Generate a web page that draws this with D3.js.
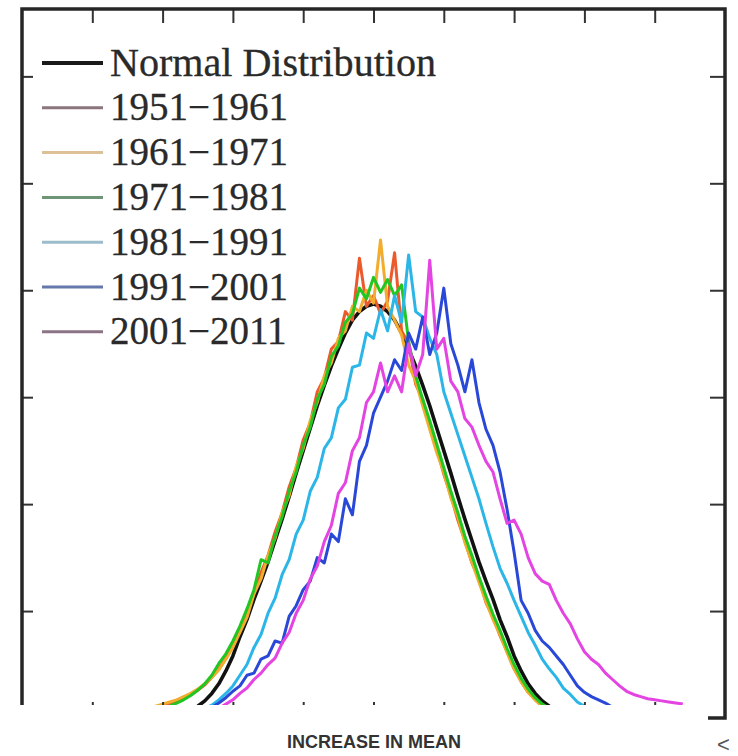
<!DOCTYPE html>
<html>
<head>
<meta charset="utf-8">
<script src="https://cdn.jsdelivr.net/npm/d3@7"></script>
<style>
  body { margin: 0; background: #fff; }
</style>
</head>
<body>
<div id="chart"><svg width="738" height="756"></svg></div>
<script>
// Bins (anomaly, in standard deviations) from -3.5 to 4.4
let bins = d3.range(-35, 45).map(i => i / 10);

// Series names
let seriesNames = ["Normal Distribution", "1951\u22121961", "1961\u22121971", "1971\u22121981",
  "1981\u22121991", "1991\u22122001", "2001\u22122011"];

// Frequency per bin
let normalDist = [
  0, 0, 0, 0, 0,
  .01, .02, .03, .05, .07, .11, .16, .23, .32, .44,
  .58, .76, .92, 1.11, 1.28, 1.46, 1.66, 1.86, 2.07, 2.29,
  2.50, 2.71, 2.92, 3.11, 3.29, 3.45, 3.60, 3.72, 3.80, 3.85,
  3.87, 3.85, 3.80, 3.72, 3.60, 3.45, 3.29, 3.11, 2.92, 2.71,
  2.50, 2.29, 2.07, 1.86, 1.66, 1.46, 1.28, 1.11, .92, .76,
  .58, .44, .32, .23, .16, .11, .07, .05, .03, .02,
  .01, 0, 0, 0, 0, 0, 0, 0, 0, 0,
  0, 0, 0, 0, 0];
let d1951 = [
  .02, .04, .05, .07, .09,
  .11, .13, .16, .19, .22, .26, .31, .38, .46, .56,
  .68, .82, 1.00, 1.16, 1.36, 1.52, 1.74, 1.92, 2.16, 2.34,
  2.60, 2.76, 3.05, 3.18, 3.45, 3.52, 3.80, 3.72, 4.30, 3.85,
  3.95, 3.78, 3.90, 4.35, 3.62, 3.50, 3.12, 2.98, 2.72, 2.52,
  2.28, 2.08, 1.85, 1.66, 1.45, 1.30, 1.08, .94, .77, .62,
  .46, .34, .24, .17, .11, .08, .05, .03, .02, .01,
  0, 0, 0, 0, 0, 0, 0, 0, 0, 0,
  0, 0, 0, 0, 0];
let d1961 = [
  .03, .05, .07, .09, .11,
  .13, .15, .17, .20, .23, .27, .32, .38, .45, .55,
  .66, .80, .94, 1.16, 1.30, 1.52, 1.68, 1.92, 2.08, 2.35,
  2.52, 2.78, 2.95, 3.20, 3.32, 3.55, 3.62, 3.85, 3.80, 4.00,
  3.88, 4.47, 3.85, 3.72, 3.58, 3.30, 3.15, 2.92, 2.70, 2.48,
  2.30, 2.06, 1.88, 1.64, 1.46, 1.27, 1.09, .92, .78, .61,
  .46, .34, .24, .17, .11, .07, .05, .03, .02, .01,
  0, 0, 0, 0, 0, 0, 0, 0, 0, 0,
  0, 0, 0, 0, 0];
let d1971 = [
  .01, .02, .04, .05, .07,
  .09, .11, .14, .17, .21, .26, .32, .40, .51, .60,
  .72, .86, 1.02, 1.20, 1.48, 1.45, 1.70, 1.88, 2.12, 2.30,
  2.55, 2.72, 2.98, 3.12, 3.38, 3.48, 3.70, 3.78, 4.02, 3.92,
  4.12, 3.98, 4.10, 3.95, 4.05, 3.52, 3.20, 2.98, 2.78, 2.56,
  2.34, 2.12, 1.92, 1.70, 1.52, 1.32, 1.14, .97, .82, .65,
  .50, .37, .27, .19, .13, .09, .06, .04, .02, .01,
  0, 0, 0, 0, 0, 0, 0, 0, 0, 0,
  0, 0, 0, 0, 0];
let d1981 = [
  0, 0, 0, 0, 0,
  0, .01, .02, .03, .04, .06, .09, .12, .17, .23,
  .30, .40, .50, .66, .78, .98, 1.12, 1.34, 1.48, 1.72,
  1.85, 2.12, 2.25, 2.52, 2.62, 2.90, 2.98, 3.28, 3.30, 3.60,
  3.55, 3.82, 3.62, 3.95, 3.70, 4.33, 3.80, 3.75, 3.55, 3.40,
  3.05, 2.85, 2.65, 2.45, 2.25, 2.05, 1.82, 1.60, 1.40, 1.26,
  1.10, .95, .80, .68, .55, .46, .38, .28, .22, .15,
  .11, .08, .05, .03, .02, .01, 0, 0, 0, 0,
  0, 0, 0, 0, 0];
let d1991 = [
  0, 0, 0, 0, 0,
  0, 0, .01, .02, .03, .05, .07, .10, .14, .19,
  .25, .30, .40, .42, .55, .58, .72, .70, .95, 1.05,
  1.20, 1.28, 1.50, 1.45, 1.72, 1.65, 2.05, 1.90, 2.40, 2.55,
  2.85, 3.00, 3.15, 3.35, 3.25, 3.60, 3.45, 3.75, 3.40, 3.60,
  4.02, 3.50, 3.30, 3.05, 3.35, 2.95, 2.70, 2.55, 2.30, 1.95,
  1.55, 1.10, .98, .82, .72, .66, .58, .50, .40, .30,
  .24, .20, .17, .14, .10, .07, .05, .03, .02, .01,
  0, 0, 0, 0, 0];
let d2001 = [
  0, 0, 0, 0, 0,
  0, 0, 0, .01, .02, .03, .04, .06, .09, .13,
  .17, .23, .28, .36, .42, .50, .56, .70, .80, .98,
  1.10, 1.30, 1.42, 1.65, 1.80, 2.10, 2.20, 2.50, 2.62, 2.95,
  3.05, 3.32, 3.05, 3.20, 3.05, 3.50, 3.20, 3.40, 4.28, 3.45,
  3.55, 3.15, 3.05, 2.80, 2.72, 2.55, 2.40, 2.30, 2.05, 1.82,
  1.85, 1.72, 1.50, 1.35, 1.28, 1.25, 1.10, .98, .88, .74,
  .62, .55, .50, .42, .36, .30, .25, .22, .20, .18,
  .17, .16, .15, .14, .13];

// Tick values
let xTicks = [-4, -3, -2, -1, 0, 1, 2, 3, 4];
let yTicks = [1, 2, 3, 4, 5, 6];

// Colors
let lineColors = ["#111111", "#ec5a2c", "#f2ac2e", "#22c622", "#2cb6e8", "#2a48d8", "#e444e2"];
let legendColors = ["#1a1a1a", "#8a767c", "#dcc098", "#6e9676", "#9cbccc", "#6478ac", "#8a7486"];

let seriesValues = [normalDist, d1951, d1961, d1971, d1981, d1991, d2001];

let svg = d3.select("div#chart svg"),
  frame = { left: 22, top: 9, right: 725, bottom: 718 };

let x = d3.scaleLinear().domain([-5, 5]).range([frame.left, frame.right]);
let y = d3.scaleLinear().domain([0, 6.63]).range([frame.bottom, frame.top]);

svg.append("rect")
  .attr("width", 738)
  .attr("height", 756)
  .attr("fill", "#fff");

svg.append("clipPath")
  .attr("id", "plot-clip")
  .append("rect")
  .attr("x", frame.left)
  .attr("y", frame.top)
  .attr("width", frame.right - frame.left)
  .attr("height", frame.bottom - frame.top);

// Curves: normal first, decades on top of it
let line = d3.line()
  .x((d, i) => x(bins[i]))
  .y(d => y(d));

let curves = svg.append("g")
  .attr("class", "curves")
  .attr("clip-path", "url(#plot-clip)");

seriesValues.forEach((values, k) => {
  curves.append("path")
    .datum(values)
    .attr("d", line)
    .attr("fill", "none")
    .attr("stroke", lineColors[k])
    .attr("stroke-width", k == 0 ? 3.6 : 3)
    .attr("stroke-linejoin", "round");
});

// Ticks pointing inwards on all four sides
function styleAxis(sel) {
  sel.select(".domain").remove();
  sel.selectAll(".tick line")
    .attr("stroke", "#333")
    .attr("stroke-width", 2);
}

svg.append("g")
  .attr("transform", "translate(0," + frame.top + ")")
  .call(d3.axisTop(x).tickValues(xTicks).tickSize(-14).tickFormat(""))
  .call(styleAxis);
svg.append("g")
  .attr("transform", "translate(0," + frame.bottom + ")")
  .call(d3.axisBottom(x).tickValues(xTicks).tickSize(-16).tickFormat(""))
  .call(styleAxis);
svg.append("g")
  .attr("transform", "translate(" + frame.left + ",0)")
  .call(d3.axisLeft(y).tickValues(yTicks).tickSize(-11).tickFormat(""))
  .call(styleAxis);
svg.append("g")
  .attr("transform", "translate(" + frame.right + ",0)")
  .call(d3.axisRight(y).tickValues(yTicks).tickSize(-15).tickFormat(""))
  .call(styleAxis);

// Frame
svg.append("rect")
  .attr("x", frame.left)
  .attr("y", frame.top)
  .attr("width", frame.right - frame.left)
  .attr("height", frame.bottom - frame.top)
  .attr("fill", "none")
  .attr("stroke", "#262626")
  .attr("stroke-width", 3.5);

// Legend
let legend = svg.append("g").attr("class", "legend");
seriesNames.forEach((name, i) => {
  let ly = 63 + i * 44.8;
  legend.append("line")
    .attr("x1", 42)
    .attr("x2", 103)
    .attr("y1", ly)
    .attr("y2", ly)
    .attr("stroke", legendColors[i])
    .attr("stroke-width", i == 0 ? 4 : 3);
  let t = legend.append("text")
    .attr("x", 110)
    .attr("y", ly + 12.5)
    .text(name)
    .style("font-family", "Liberation Serif, serif")
    .style("font-size", "39px")
    .style("fill", "#2a2a2a")
    .style("stroke", "#2a2a2a")
    .style("stroke-width", 0.3);
  if (i == 0)
    t.attr("textLength", 326).attr("lengthAdjust", "spacingAndGlyphs");
});

// White strip covering the bottom of the plot
svg.append("rect")
  .attr("x", 0)
  .attr("y", 705)
  .attr("width", 708)
  .attr("height", 51)
  .attr("fill", "#fff");

svg.append("text")
  .attr("x", 374)
  .attr("y", 748)
  .text("INCREASE IN MEAN")
  .style("font-family", "Liberation Sans, Arial, sans-serif")
  .style("font-weight", "bold")
  .style("font-size", "18px")
  .style("text-anchor", "middle")
  .style("fill", "#333");

svg.append("text")
  .attr("x", 717)
  .attr("y", 752)
  .text("<")
  .style("font-family", "Liberation Sans, Arial, sans-serif")
  .style("font-size", "22px")
  .style("fill", "#555");
</script>
</body>
</html>
